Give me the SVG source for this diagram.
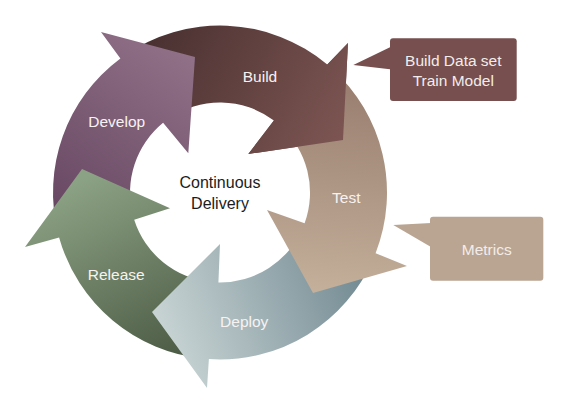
<svg xmlns="http://www.w3.org/2000/svg" width="569" height="420" viewBox="0 0 569 420">
  <style>
    .lbl { font-family: "Liberation Sans", Arial, sans-serif; font-size: 15.5px; fill: #f7f2f1; text-anchor: middle; }
    .ctr { font-family: "Liberation Sans", Arial, sans-serif; font-size: 16px; fill: #1c1c1c; text-anchor: middle; }
    .call { font-family: "Liberation Sans", Arial, sans-serif; font-size: 15.5px; fill: #f3ecea; text-anchor: middle; }
  </style>
  <defs>
    <linearGradient id="gBuild" gradientUnits="userSpaceOnUse" x1="150" y1="40" x2="340" y2="140">
      <stop offset="0" stop-color="#4a3131"/>
      <stop offset="1" stop-color="#7c5552"/>
    </linearGradient>
    <linearGradient id="gDevelop" gradientUnits="userSpaceOnUse" x1="185" y1="55" x2="60" y2="230">
      <stop offset="0" stop-color="#8f7087"/>
      <stop offset="1" stop-color="#654560"/>
    </linearGradient>
    <linearGradient id="gTest" gradientUnits="userSpaceOnUse" x1="340" y1="80" x2="320" y2="290">
      <stop offset="0" stop-color="#997e6f"/>
      <stop offset="1" stop-color="#c3af9a"/>
    </linearGradient>
    <linearGradient id="gDeploy" gradientUnits="userSpaceOnUse" x1="370" y1="255" x2="165" y2="335">
      <stop offset="0" stop-color="#6e868f"/>
      <stop offset="1" stop-color="#c7d3d3"/>
    </linearGradient>
    <linearGradient id="gRelease" gradientUnits="userSpaceOnUse" x1="90" y1="175" x2="180" y2="360">
      <stop offset="0" stop-color="#8ca284"/>
      <stop offset="1" stop-color="#4b5a44"/>
    </linearGradient>
  </defs>

  <g id="build">
    <path d="M124.2,55.7 A167,167 0 0 1 327.3,64.6 L348,43 L343,140 L248.3,154 L273.9,120.4 A90,90 0 0 0 168.4,118.8 Z" fill="url(#gBuild)"/>
  </g>
  <g id="develop">
    <path d="M58,232.9 A167,167 0 0 1 120.4,58.4 L101,32 L195,57 L188.3,153.3 L163.1,122.8 A90,90 0 0 0 132.7,214.3 Z" fill="url(#gDevelop)"/>
    <text class="lbl" x="116.7" y="127.3">Develop</text>
  </g>
  <g id="release">
    <path d="M204,358.7 A167,167 0 0 1 59.1,237.4 L25,247 L82,169 L170,208.3 L134.2,219.7 A90,90 0 0 0 211.4,282.1 Z" fill="url(#gRelease)"/>
    <text class="lbl" x="116.2" y="280">Release</text>
  </g>
  <g id="deploy">
    <path d="M373.7,257.7 A167,167 0 0 1 208.9,359.1 L207,388 L152,312 L220,244 L218.4,282.5 A90,90 0 0 0 302.8,227.7 Z" fill="url(#gDeploy)"/>
    <text class="lbl" x="244.2" y="326.7">Deploy</text>
  </g>
  <g id="test">
    <path d="M331.7,68.4 A167,167 0 0 1 375.6,253.2 L407,266 L313,293 L267,210 L304.6,223.3 A90,90 0 0 0 280.2,125.6 Z" fill="url(#gTest)"/>
    <text class="lbl" x="346.3" y="203.3">Test</text>
  </g>
  <g id="build-head">
    <path d="M327.3,64.6 L348,43 L343,140 L248.3,154 L273.9,120.4 Z" fill="url(#gBuild)"/>
    <text class="lbl" x="260" y="81.7">Build</text>
  </g>

  <g id="center">
    <text class="ctr" x="220" y="188.3">Continuous</text>
    <text class="ctr" x="220" y="209">Delivery</text>
  </g>

  <g id="callout-build">
    <path d="M390,47.3 L353.3,65 L390,69.3 Z" fill="#764f4e"/>
    <rect x="390" y="38.3" width="126.7" height="62.7" rx="3" fill="#764f4e"/>
    <text class="call" x="453.3" y="65.7">Build Data set</text>
    <text class="call" x="453.3" y="85.7">Train Model</text>
  </g>
  <g id="callout-metrics">
    <path d="M431,223 L393.3,225 L431,247 Z" fill="#baa592"/>
    <rect x="430" y="216.7" width="113.3" height="64" rx="3" fill="#baa592"/>
    <text class="call" x="486.7" y="255">Metrics</text>
  </g>
  <g id="connectors"></g>
</svg>
